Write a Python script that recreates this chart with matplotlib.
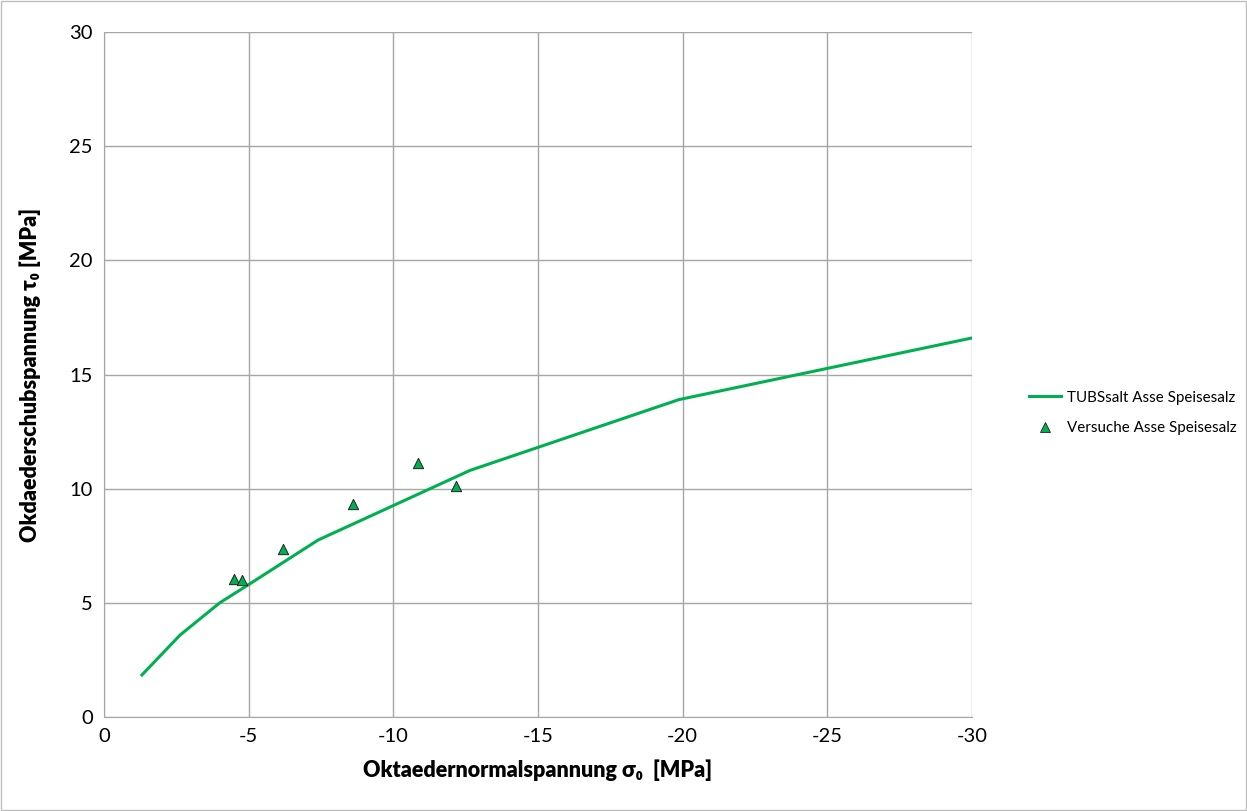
import matplotlib
matplotlib.use("Agg")
from matplotlib import pyplot as plt
from matplotlib.lines import Line2D

plt.rcParams['font.family'] = ['Lato', 'DejaVu Sans']

# TUBSsalt model curve
model_sigma = [-1.31, -2.63, -4.0, -5.0, -7.4, -12.65, -19.87, -30.0]
model_tau = [1.84, 3.59, 5.0, 5.8, 7.75, 10.8, 13.9, 16.6]

# test results
test_sigma = [-4.48, -4.78, -6.2, -8.62, -10.85, -12.17]
test_tau = [6.04, 6.01, 7.34, 9.34, 11.11, 10.13]

xticks = [0, -5, -10, -15, -20, -25, -30]
yticks = [0, 5, 10, 15, 20, 25, 30]

green = '#00B050'

fig = plt.figure(figsize=(12.47, 8.11), dpi=100)
ax = fig.add_axes([104/1247, 94/811, 868/1247, 685/811])

ax.plot(model_sigma, model_tau, color=green, lw=2.2, zorder=3)
ax.scatter(test_sigma, test_tau, marker='^', s=55, color=green,
           edgecolors='#222222', linewidths=0.7, zorder=4)

ax.set_xlim(0, -30)
ax.set_ylim(0, 30)
ax.set_xticks(xticks)
ax.set_yticks(yticks)
ax.set_xticklabels([str(t) for t in xticks])
ax.tick_params(labelsize=14.5, length=0, pad=8)
ax.grid(True, color='#a6a6a6', lw=1)
ax.set_axisbelow(True)
for s in ['top', 'right']:
    ax.spines[s].set_visible(False)
for s in ['left', 'bottom']:
    ax.spines[s].set_color('#a6a6a6')

ax.set_xlabel('Oktaedernormalspannung σ₀  [MPa]', fontsize=15.5,
              fontweight='heavy', labelpad=10)
ax.set_ylabel('Okdaederschubspannung τ₀ [MPa]', fontsize=15.5,
              fontweight='heavy')
ax.yaxis.set_label_coords(-0.073, 0.5)

handles = [Line2D([], [], color=green, lw=2.2),
           Line2D([], [], color=green, marker='^', ls='none', ms=7,
                  markeredgecolor='#222222', markeredgewidth=0.6)]
fig.legend(handles, ['TUBSsalt Asse Speisesalz', 'Versuche Asse Speisesalz'],
           loc='center left', bbox_to_anchor=(1029/1247, 1 - 413/811),
           frameon=False, fontsize=10.9, handlelength=2.1, handletextpad=0.4,
           borderpad=0, borderaxespad=0, labelspacing=1.1)

fig.patches.append(plt.Rectangle((0.001, 0.001), 0.998, 0.998,
                                 transform=fig.transFigure, fill=False,
                                 edgecolor='#bfbfbf', lw=1))

fig.savefig('out.png', dpi=100)
plt.close(fig)
